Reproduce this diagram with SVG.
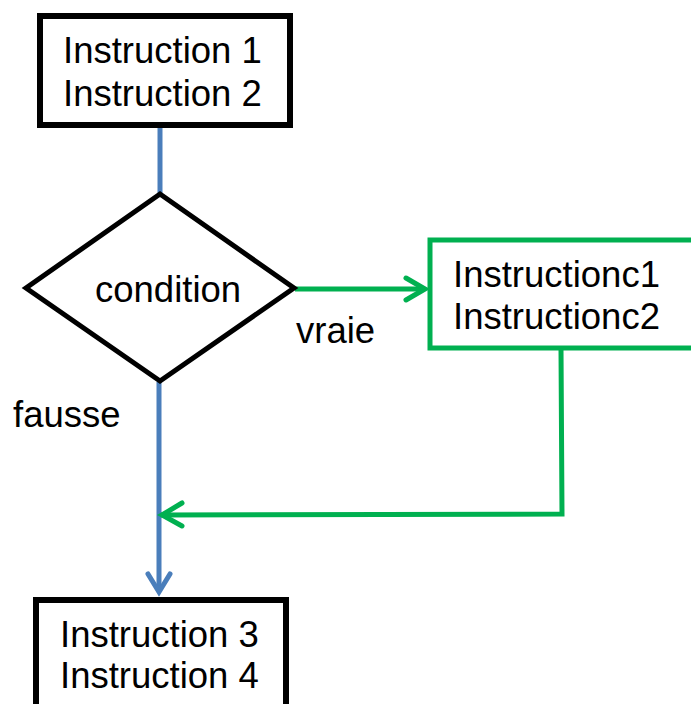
<svg xmlns="http://www.w3.org/2000/svg" width="691" height="704" viewBox="0 0 691 704">
<style>
text{font-family:"Liberation Sans",Arial,sans-serif;font-size:36.5px;fill:#000}
.box{fill:#fff;stroke:#000;stroke-width:6}
.gbox{fill:#fff;stroke:#00B050;stroke-width:5}
.blue{stroke:#4A7EBB;stroke-width:5;fill:none}
.green{stroke:#00B050;stroke-width:5;fill:none}
.bhead{stroke:#4A7EBB;stroke-width:5;fill:none;stroke-linecap:round;stroke-linejoin:miter}
.ghead{stroke:#00B050;stroke-width:5;fill:none;stroke-linecap:round;stroke-linejoin:miter}
</style>
<rect width="691" height="704" fill="#fff"/>
<g id="connectors">
<line class="blue" x1="160" y1="125" x2="160" y2="194"/>
<line class="blue" x1="159" y1="382" x2="159" y2="590"/>
<polyline class="bhead" points="148,574 159,592 170,574"/>
<line class="green" x1="295" y1="289" x2="425" y2="289"/>
<polyline class="ghead" points="406,278 425,289 406,300"/>
<polyline class="green" points="561,349 562,514 161,515"/>
<polyline class="ghead" points="182,503 162,515 182,526"/>
<text x="296" y="343">vraie</text>
<text x="13" y="427">fausse</text>
</g>
<g id="start">
<rect class="box" x="40" y="16" width="250" height="109"/>
<text x="63" y="63">Instruction 1</text>
<text x="63" y="106">Instruction 2</text>
</g>
<g id="condition">
<polygon points="160,194 294,288 160,381 26,288" fill="#fff" stroke="#000" stroke-width="5"/>
<text x="95" y="302">condition</text>
</g>
<g id="branch">
<rect class="gbox" x="430" y="240" width="270" height="108"/>
<text x="453" y="287">Instructionc1</text>
<text x="453" y="329">Instructionc2</text>
</g>
<g id="end">
<rect class="box" x="36" y="600" width="250" height="120"/>
<text x="60" y="647">Instruction 3</text>
<text x="60" y="688">Instruction 4</text>
</g>
</svg>
